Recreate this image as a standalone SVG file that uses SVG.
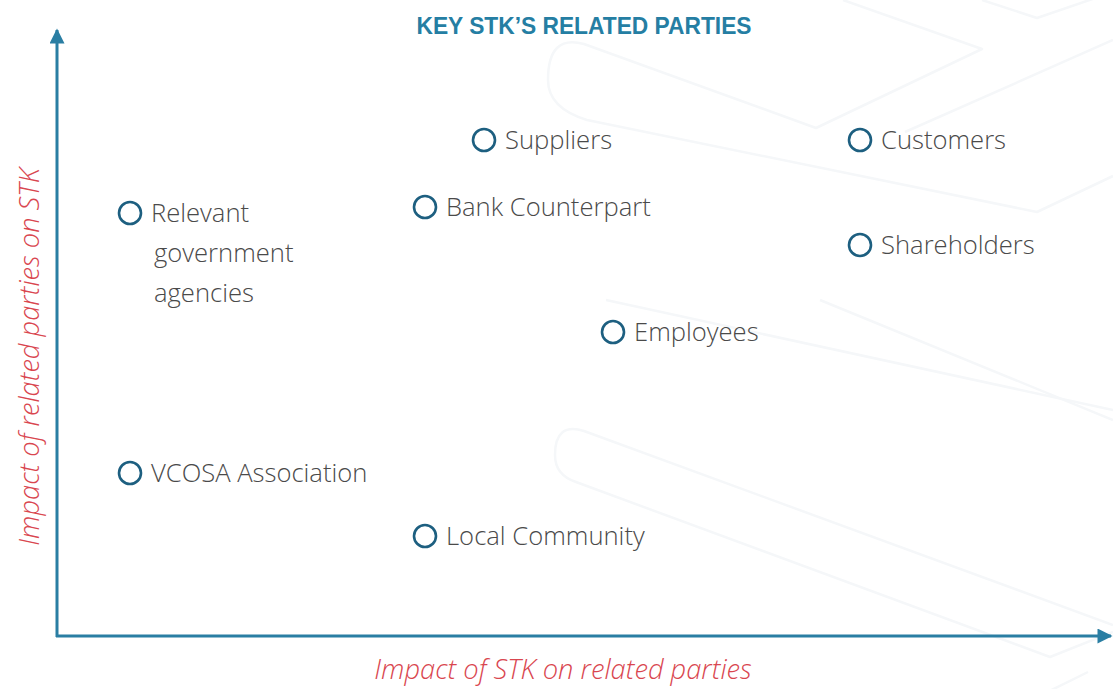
<svg xmlns="http://www.w3.org/2000/svg" width="1113" height="689" viewBox="0 0 1113 689">
  <style>
    .bg { fill: none; stroke: #f5f7f9; stroke-width: 2.5; stroke-linejoin: round; }
    .axis { stroke: #2a7ea3; stroke-width: 3; fill: none; }
    .dot { fill: none; stroke: #1d5f80; stroke-width: 2.6; }
    .label { font-family: "Open Sans", "Noto Sans", "Liberation Sans", sans-serif; font-weight: 300; font-size: 25.6px; fill: #4a4a4a; }
    .title { font-family: "Liberation Sans", "Open Sans", sans-serif; font-weight: bold; font-size: 24px; fill: #257ea3; }
    .axis-label { font-family: "Open Sans", "Noto Sans", "Liberation Sans", sans-serif; font-weight: 300; font-style: italic; font-size: 27.3px; fill: #d9464f; }
  </style>
  <defs>
    <marker id="arrow" viewBox="0 0 10 10" refX="9" refY="5" markerWidth="6.5" markerHeight="5" markerUnits="strokeWidth" orient="auto">
      <path d="M0,0 L10,5 L0,10 Z" fill="#2a7ea3"/>
    </marker>
  </defs>

  <rect width="1113" height="689" fill="#ffffff"/>

  <!-- faint chevron bands in the background -->
  <g id="backdrop">
    <path class="bg" d="M843,0 L982,49 L816,128 L584,44 Q548,34 548,80 Q548,108 587,120 L1037,212 L1113,176"/>
    <path class="bg" d="M982,0 L1037,18 L1113,-8"/>
    <path class="bg" d="M1113,40 L905,132"/>
    <path class="bg" d="M606,300 L1113,410"/>
    <path class="bg" d="M820,300 L1113,420"/>
    <path class="bg" d="M1113,625 L584,431 Q555,422 555,455 Q555,475 576,482 L1050,657 L1113,632"/>
    <path class="bg" d="M1088,672 L1015,708"/>
  </g>

  <!-- axes -->
  <g id="connectors">
    <line class="axis" x1="57" y1="637" x2="57" y2="30" marker-end="url(#arrow)"/>
    <line class="axis" x1="56" y1="636" x2="1111" y2="636" marker-end="url(#arrow)"/>
  </g>

  <g id="title">
    <text class="title" x="584" y="34" text-anchor="middle" textLength="335" lengthAdjust="spacingAndGlyphs">KEY STK’S RELATED PARTIES</text>
  </g>

  <g id="axis-x-label">
    <text class="axis-label" x="563" y="679" text-anchor="middle">Impact of STK on related parties</text>
  </g>
  <g id="axis-y-label">
    <text class="axis-label" x="0" y="0" text-anchor="middle" transform="translate(39,357) rotate(-90)">Impact of related parties on STK</text>
  </g>

  <g id="suppliers">
    <circle class="dot" cx="484" cy="140" r="11"/>
    <text class="label" x="505" y="149">Suppliers</text>
  </g>
  <g id="customers">
    <circle class="dot" cx="860" cy="140" r="11"/>
    <text class="label" x="881" y="149">Customers</text>
  </g>
  <g id="bank-counterpart">
    <circle class="dot" cx="425" cy="207" r="11"/>
    <text class="label" x="446" y="216">Bank Counterpart</text>
  </g>
  <g id="shareholders">
    <circle class="dot" cx="860" cy="245" r="11"/>
    <text class="label" x="881" y="254">Shareholders</text>
  </g>
  <g id="government">
    <circle class="dot" cx="130" cy="213" r="11"/>
    <text class="label" x="151" y="222">Relevant</text>
    <text class="label" x="154" y="262">government</text>
    <text class="label" x="154" y="302">agencies</text>
  </g>
  <g id="employees">
    <circle class="dot" cx="613" cy="332" r="11"/>
    <text class="label" x="634" y="341">Employees</text>
  </g>
  <g id="vcosa">
    <circle class="dot" cx="130" cy="473" r="11"/>
    <text class="label" x="151" y="482">VCOSA Association</text>
  </g>
  <g id="local-community">
    <circle class="dot" cx="425" cy="536" r="11"/>
    <text class="label" x="446" y="545">Local Community</text>
  </g>
</svg>
